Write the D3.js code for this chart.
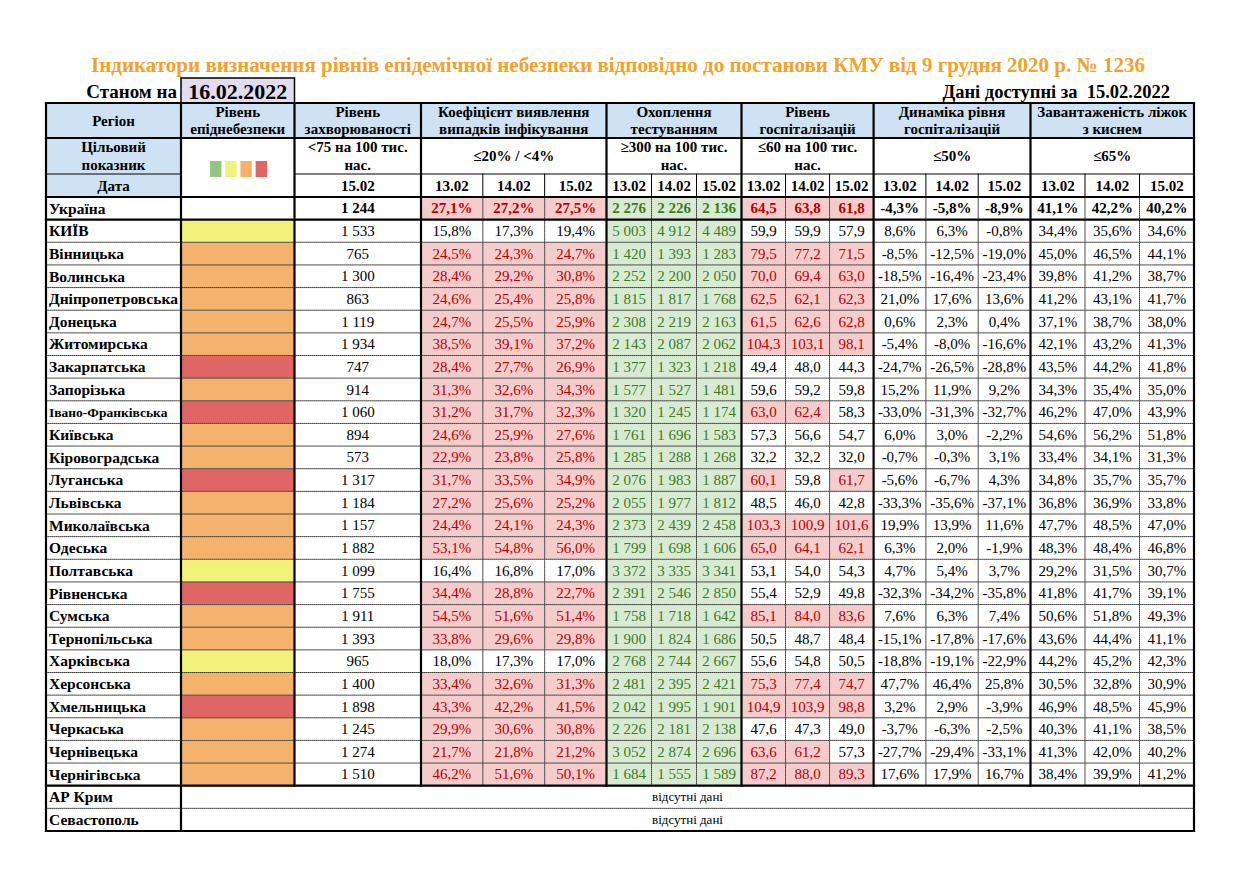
<!DOCTYPE html>
<html>
<head>
<meta charset="utf-8">
<script src="https://cdn.jsdelivr.net/npm/d3@7"></script>
<style>
  body { margin: 0; background: #fff; }
  svg { display: block; font-family: 'Liberation Serif', 'Times New Roman', serif; }
</style>
</head>
<body>
<svg id="chart" width="1251" height="879"></svg>
<script>
// --- data (Україна first, then regions) ---
const regions = ['Україна', 'КИЇВ', 'Вінницька', 'Волинська', 'Дніпропетровська', 'Донецька', 'Житомирська',
  'Закарпатська', 'Запорізька', 'Івано-Франківська', 'Київська', 'Кіровоградська', 'Луганська', 'Львівська',
  'Миколаївська', 'Одеська', 'Полтавська', 'Рівненська', 'Сумська', 'Тернопільська', 'Харківська',
  'Херсонська', 'Хмельницька', 'Черкаська', 'Чернівецька', 'Чернігівська'];
const missingRegions = ['АР Крим', 'Севастополь'];

const levels = [null, 'yellow', 'orange', 'orange', 'orange', 'orange', 'orange', 'red', 'orange', 'red',
  'orange', 'orange', 'red', 'orange', 'orange', 'orange', 'yellow', 'red', 'orange', 'orange', 'yellow',
  'orange', 'red', 'orange', 'orange', 'orange'];

const incidence = [1244, 1533, 765, 1300, 863, 1119, 1934, 747, 914, 1060, 894, 573, 1317, 1184, 1157, 1882,
  1099, 1755, 1911, 1393, 965, 1400, 1898, 1245, 1274, 1510];

const dates = ['13.02', '14.02', '15.02'];

const coef = [
  [27.1, 27.2, 27.5], [15.8, 17.3, 19.4], [24.5, 24.3, 24.7], [28.4, 29.2, 30.8], [24.6, 25.4, 25.8],
  [24.7, 25.5, 25.9], [38.5, 39.1, 37.2], [28.4, 27.7, 26.9], [31.3, 32.6, 34.3], [31.2, 31.7, 32.3],
  [24.6, 25.9, 27.6], [22.9, 23.8, 25.8], [31.7, 33.5, 34.9], [27.2, 25.6, 25.2], [24.4, 24.1, 24.3],
  [53.1, 54.8, 56.0], [16.4, 16.8, 17.0], [34.4, 28.8, 22.7], [54.5, 51.6, 51.4], [33.8, 29.6, 29.8],
  [18.0, 17.3, 17.0], [33.4, 32.6, 31.3], [43.3, 42.2, 41.5], [29.9, 30.6, 30.8], [21.7, 21.8, 21.2],
  [46.2, 51.6, 50.1]];

const testing = [
  [2276, 2226, 2136], [5003, 4912, 4489], [1420, 1393, 1283], [2252, 2200, 2050], [1815, 1817, 1768],
  [2308, 2219, 2163], [2143, 2087, 2062], [1377, 1323, 1218], [1577, 1527, 1481], [1320, 1245, 1174],
  [1761, 1696, 1583], [1285, 1288, 1268], [2076, 1983, 1887], [2055, 1977, 1812], [2373, 2439, 2458],
  [1799, 1698, 1606], [3372, 3335, 3341], [2391, 2546, 2850], [1758, 1718, 1642], [1900, 1824, 1686],
  [2768, 2744, 2667], [2481, 2395, 2421], [2042, 1995, 1901], [2226, 2181, 2138], [3052, 2874, 2696],
  [1684, 1555, 1589]];

const hosp = [
  [64.5, 63.8, 61.8], [59.9, 59.9, 57.9], [79.5, 77.2, 71.5], [70.0, 69.4, 63.0], [62.5, 62.1, 62.3],
  [61.5, 62.6, 62.8], [104.3, 103.1, 98.1], [49.4, 48.0, 44.3], [59.6, 59.2, 59.8], [63.0, 62.4, 58.3],
  [57.3, 56.6, 54.7], [32.2, 32.2, 32.0], [60.1, 59.8, 61.7], [48.5, 46.0, 42.8], [103.3, 100.9, 101.6],
  [65.0, 64.1, 62.1], [53.1, 54.0, 54.3], [55.4, 52.9, 49.8], [85.1, 84.0, 83.6], [50.5, 48.7, 48.4],
  [55.6, 54.8, 50.5], [75.3, 77.4, 74.7], [104.9, 103.9, 98.8], [47.6, 47.3, 49.0], [63.6, 61.2, 57.3],
  [87.2, 88.0, 89.3]];

const dynamics = [
  [-4.3, -5.8, -8.9], [8.6, 6.3, -0.8], [-8.5, -12.5, -19.0], [-18.5, -16.4, -23.4], [21.0, 17.6, 13.6],
  [0.6, 2.3, 0.4], [-5.4, -8.0, -16.6], [-24.7, -26.5, -28.8], [15.2, 11.9, 9.2], [-33.0, -31.3, -32.7],
  [6.0, 3.0, -2.2], [-0.7, -0.3, 3.1], [-5.6, -6.7, 4.3], [-33.3, -35.6, -37.1], [19.9, 13.9, 11.6],
  [6.3, 2.0, -1.9], [4.7, 5.4, 3.7], [-32.3, -34.2, -35.8], [7.6, 6.3, 7.4], [-15.1, -17.8, -17.6],
  [-18.8, -19.1, -22.9], [47.7, 46.4, 25.8], [3.2, 2.9, -3.9], [-3.7, -6.3, -2.5], [-27.7, -29.4, -33.1],
  [17.6, 17.9, 16.7]];

const beds = [
  [41.1, 42.2, 40.2], [34.4, 35.6, 34.6], [45.0, 46.5, 44.1], [39.8, 41.2, 38.7], [41.2, 43.1, 41.7],
  [37.1, 38.7, 38.0], [42.1, 43.2, 41.3], [43.5, 44.2, 41.8], [34.3, 35.4, 35.0], [46.2, 47.0, 43.9],
  [54.6, 56.2, 51.8], [33.4, 34.1, 31.3], [34.8, 35.7, 35.7], [36.8, 36.9, 33.8], [47.7, 48.5, 47.0],
  [48.3, 48.4, 46.8], [29.2, 31.5, 30.7], [41.8, 41.7, 39.1], [50.6, 51.8, 49.3], [43.6, 44.4, 41.1],
  [44.2, 45.2, 42.3], [30.5, 32.8, 30.9], [46.9, 48.5, 45.9], [40.3, 41.1, 38.5], [41.3, 42.0, 40.2],
  [38.4, 39.9, 41.2]];

const legendLevels = ['green', 'yellow', 'orange', 'red'];

// --- styles ---
const levelColor = { green: '#93c47d', yellow: '#f2f27a', orange: '#f5b26c', red: '#e06666' };
const blue = '#cfe2f3', pink = '#f4cccc', greenFill = '#d9ead3';
const redText = '#b80000', greenText = '#3d7c1e';

const locale = d3.formatLocale({ decimal: ',', thousands: ' ', grouping: [3], currency: ['', ''], minus: '-' });
const fInt = locale.format(',d');
const fDec = locale.format('.1f');
const fPct = v => fDec(v) + '%';

const groups = [
  { x: [421, 606.5], head: ['Коефіцієнт виявлення', 'випадків інфікування'], target: ['≤20% / <4%'],
    values: coef, fmt: fPct, hi: v => v > 20, fill: pink, color: redText },
  { x: [606.5, 741.5], head: ['Охоплення', 'тестуванням'], target: ['≥300 на 100 тис.', 'нас.'],
    values: testing, fmt: fInt, hi: v => v >= 300, fill: greenFill, color: greenText },
  { x: [741.5, 873.6], head: ['Рівень', 'госпіталізацій'], target: ['≤60 на 100 тис.', 'нас.'],
    values: hosp, fmt: fDec, hi: v => v > 60, fill: pink, color: redText },
  { x: [873.6, 1030.5], head: ['Динаміка рівня', 'госпіталізацій'], target: ['≤50%'],
    values: dynamics, fmt: fPct, hi: () => false },
  { x: [1030.5, 1194], head: ['Завантаженість ліжок', 'з киснем'], target: ['≤65%'],
    values: beds, fmt: fPct, hi: () => false }
];
groups.forEach(g => { g.sub = d3.scaleBand().domain(dates).range(g.x); });

const L = 46, R = 1194;
const colRegion = [46, 181], colLevel = [181, 294.5], colInc = [294.5, 421];
const yHead = [103, 138], yTarget = [138, 174], yDate = [174, 197];
const rowKeys = regions.concat(missingRegions);
const y = d3.scaleBand().domain(rowKeys).range([197, 831]);
const bw = y.bandwidth();
const headSize = 15;

const svg = d3.select('#chart');

// --- title block ---
svg.append('text')
  .attr('x', 618).attr('y', 72)
  .attr('text-anchor', 'middle')
  .attr('font-weight', 'bold').attr('font-size', 21)
  .attr('fill', '#f4a12a')
  .text('Індикатори визначення рівнів епідемічної небезпеки відповідно до постанови КМУ від 9 грудня 2020 р. № 1236');

svg.append('text')
  .attr('x', 177).attr('y', 98)
  .attr('text-anchor', 'end').attr('font-weight', 'bold').attr('font-size', 19)
  .text('Станом на');
svg.append('rect')
  .attr('x', colLevel[0]).attr('y', 78).attr('width', colLevel[1] - colLevel[0]).attr('height', 25)
  .attr('fill', '#e2dcef').attr('stroke', '#000').attr('stroke-width', 1.5);
svg.append('text')
  .attr('x', (colLevel[0] + colLevel[1]) / 2).attr('y', 99)
  .attr('text-anchor', 'middle').attr('font-weight', 'bold').attr('font-size', 22)
  .text('16.02.2022');
svg.append('text')
  .attr('x', 1170).attr('y', 98)
  .attr('text-anchor', 'end').attr('font-weight', 'bold').attr('font-size', 18.5)
  .attr('xml:space', 'preserve')
  .text('Дані доступні за  15.02.2022');

// --- cells ---
const cells = [];
function cell(x, yy, opts) {
  cells.push(Object.assign({ x0: x[0], x1: x[1], y0: yy[0], y1: yy[1], fill: '#fff', lines: [], bold: true, size: headSize }, opts));
}

// header row
cell(colRegion, yHead, { fill: blue, lines: ['Регіон'] });
cell(colLevel, yHead, { fill: blue, lines: ['Рівень', 'епіднебезпеки'] });
cell(colInc, yHead, { fill: blue, lines: ['Рівень', 'захворюваності'] });
groups.forEach(g => cell(g.x, yHead, { fill: blue, lines: g.head }));

// target row
cell(colRegion, yTarget, { fill: blue, lines: ['Цільовий', 'показник'] });
cell(colLevel, [yTarget[0], yDate[1]], {});
cell(colInc, yTarget, { lines: ['<75 на 100 тис.', 'нас.'] });
groups.forEach(g => cell(g.x, yTarget, { lines: g.target }));

// date row
cell(colRegion, yDate, { fill: blue, lines: ['Дата'] });
cell(colInc, yDate, { lines: ['15.02'] });
groups.forEach(g => dates.forEach(d => cell([g.sub(d), g.sub(d) + g.sub.bandwidth()], yDate, { lines: [d] })));

// data rows
regions.forEach((name, i) => {
  const ry = [y(name), y(name) + bw];
  const total = i === 0;
  cell(colRegion, ry, { lines: [name], anchor: 'start', size: name.length > 16 ? 13.5 : 15.5 });
  cell(colLevel, ry, { fill: levels[i] ? levelColor[levels[i]] : '#fff' });
  cell(colInc, ry, { lines: [fInt(incidence[i])], bold: total, size: 15 });
  groups.forEach(g => dates.forEach((d, j) => {
    const v = g.values[i][j];
    const on = g.hi(v);
    cell([g.sub(d), g.sub(d) + g.sub.bandwidth()], ry, {
      lines: [g.fmt(v)], bold: total, size: 15,
      fill: on ? g.fill : '#fff', color: on ? g.color : '#000'
    });
  }));
});

missingRegions.forEach(name => {
  const ry = [y(name), y(name) + bw];
  cell(colRegion, ry, { lines: [name], anchor: 'start', size: 15.5 });
  cell([colLevel[0], R], ry, { lines: ['відсутні дані'], bold: false, size: 13 });
});

svg.append('g').selectAll('rect')
  .data(cells)
  .join('rect')
  .attr('x', d => d.x0).attr('y', d => d.y0)
  .attr('width', d => d.x1 - d.x0).attr('height', d => d.y1 - d.y0)
  .attr('fill', d => d.fill);

// legend squares in level column
const sq = d3.scaleBand().domain(legendLevels).range([210, 267]).paddingInner(0.25);
svg.append('g').selectAll('rect')
  .data(legendLevels)
  .join('rect')
  .attr('x', d => sq(d)).attr('y', 161)
  .attr('width', sq.bandwidth()).attr('height', 16)
  .attr('fill', d => levelColor[d]);

// --- grid lines ---
const lines = [];
const seg = (x1, y1, x2, y2, w, dash) => lines.push({ x1, y1, x2, y2, w, dash });
const tableBottom = y.range()[1];
const dataBottom = y(missingRegions[0]);

// dotted row separators
rowKeys.slice(2).forEach(k => seg(L, y(k), R, y(k), 1, true));
// dotted inner verticals in data rows, solid thin in date row
groups.forEach(g => dates.slice(1).forEach(d => {
  seg(g.sub(d), yDate[0], g.sub(d), yDate[1], 1, false);
  seg(g.sub(d), yDate[1], g.sub(d), dataBottom, 1, true);
}));
// thin lines between target and date rows
seg(L, yDate[0], colRegion[1], yDate[0], 1.2, false);
seg(colInc[0], yDate[0], R, yDate[0], 1.2, false);
// thick horizontals
[yHead[0], yHead[1], yDate[1], y(regions[1]), dataBottom, tableBottom].forEach(v => seg(L, v, R, v, 2.2, false));
// thick verticals
[L, colRegion[1], R].forEach(v => seg(v, yHead[0], v, tableBottom, 2.2, false));
[colLevel[1], colInc[1]].concat(groups.slice(1).map(g => g.x[0])).forEach(v => seg(v, yHead[0], v, dataBottom, 2.2, false));

svg.append('g').selectAll('line')
  .data(lines)
  .join('line')
  .attr('x1', d => d.x1).attr('y1', d => d.y1)
  .attr('x2', d => d.x2).attr('y2', d => d.y2)
  .attr('stroke', d => d.dash ? '#444' : '#000')
  .attr('stroke-width', d => d.w)
  .attr('stroke-dasharray', d => d.dash ? '1,1' : null)
  .attr('stroke-linecap', 'square');

// --- cell texts ---
const texts = svg.append('g').selectAll('text')
  .data(cells.filter(d => d.lines.length))
  .join('text')
  .attr('text-anchor', d => d.anchor === 'start' ? 'start' : 'middle')
  .attr('font-weight', d => d.bold ? 'bold' : 'normal')
  .attr('font-size', d => d.size)
  .attr('fill', d => d.color || '#000');

texts.selectAll('tspan')
  .data(d => d.lines.map((t, i) => ({ t, i, c: d })))
  .join('tspan')
  .attr('x', d => d.c.anchor === 'start' ? d.c.x0 + 3 : (d.c.x0 + d.c.x1) / 2)
  .attr('y', d => {
    const mid = (d.c.y0 + d.c.y1) / 2;
    const n = d.c.lines.length;
    return mid + d.c.size * 0.34 + (d.i - (n - 1) / 2) * d.c.size * 1.15;
  })
  .text(d => d.t);
</script>
</body>
</html>
